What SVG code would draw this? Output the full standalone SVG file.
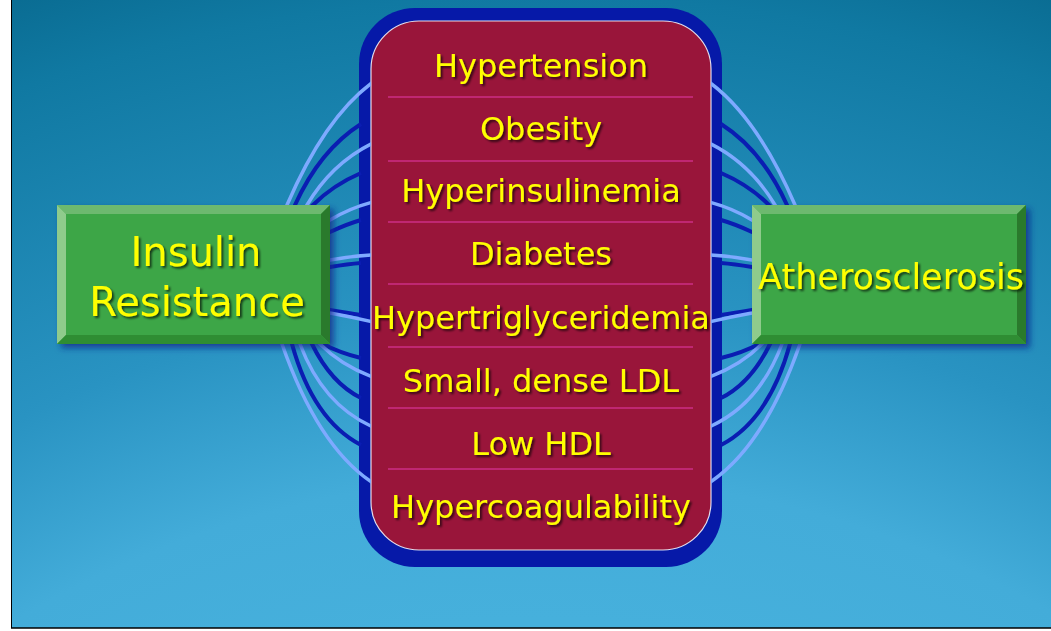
<svg xmlns="http://www.w3.org/2000/svg" xmlns:xlink="http://www.w3.org/1999/xlink" width="1051" height="631" viewBox="0 0 1051 631">
<defs>
<radialGradient id="bg" cx="540" cy="1500" r="1600" gradientUnits="userSpaceOnUse">
<stop offset="0.55" stop-color="#46b0dc"/>
<stop offset="0.64" stop-color="#43acd9"/>
<stop offset="0.75" stop-color="#2993c2"/>
<stop offset="0.94" stop-color="#1079a2"/>
<stop offset="1" stop-color="#096b91"/>
</radialGradient>
<filter id="ts" x="-10%" y="-30%" width="120%" height="160%">
<feDropShadow dx="2" dy="2" stdDeviation="1" flood-color="#000" flood-opacity="0.65"/>
</filter>
<filter id="bs" x="-10%" y="-10%" width="125%" height="130%">
<feDropShadow dx="4" dy="4" stdDeviation="3" flood-color="#0a2a8a" flood-opacity="0.75"/>
</filter>
<clipPath id="cc">
<rect x="0" y="0" width="371" height="631"/>
<rect x="711" y="0" width="340" height="631"/>
</clipPath>
<style>
.lt{fill:none;stroke:#7eaaff;stroke-width:3.5}
.dk{fill:none;stroke:#0a1db2;stroke-width:4}
.it{font-family:"DejaVu Sans",Verdana,sans-serif;font-size:32px;fill:#ffff00;text-anchor:middle;filter:url(#ts)}
.bt{font-family:"DejaVu Sans",Verdana,sans-serif;fill:#ffff00;text-anchor:middle;filter:url(#ts)}
.dv{stroke:#cc2e86;stroke-width:1.5}
.face{fill:#3ca646}
.bT{fill:#6db96f}.bL{fill:#8fcb8c}.bR{fill:#2a7a2c}.bB{fill:#2f8d33}
</style>
</defs>
<rect x="0" y="0" width="1051" height="631" fill="#ffffff"/>
<rect x="11" y="0" width="1040" height="628" fill="url(#bg)"/>
<line x1="11.5" y1="0" x2="11.5" y2="628" stroke="#000" stroke-width="1"/>
<line x1="11" y1="628" x2="1051" y2="628" stroke="#000" stroke-width="1.5"/>

<g id="factors">
<rect x="359" y="8" width="363" height="559" rx="56" fill="#0619a8"/>
<rect x="371" y="21" width="340" height="529" rx="48" fill="#99153a" stroke="#ffffff" stroke-width="1.2" stroke-opacity="0.85"/>
<line class="dv" x1="388" y1="97" x2="693" y2="97"/>
<line class="dv" x1="388" y1="161" x2="693" y2="161"/>
<line class="dv" x1="388" y1="222" x2="693" y2="222"/>
<line class="dv" x1="388" y1="284" x2="693" y2="284"/>
<line class="dv" x1="388" y1="347" x2="693" y2="347"/>
<line class="dv" x1="388" y1="408" x2="693" y2="408"/>
<line class="dv" x1="388" y1="469" x2="693" y2="469"/>
<text class="it" x="541" y="77">Hypertension</text>
<text class="it" x="541" y="140">Obesity</text>
<text class="it" x="541" y="202">Hyperinsulinemia</text>
<text class="it" x="541" y="265">Diabetes</text>
<text class="it" x="541" y="329">Hypertriglyceridemia</text>
<text class="it" x="541" y="392">Small, dense LDL</text>
<text class="it" x="541" y="455">Low HDL</text>
<text class="it" x="541" y="518">Hypercoagulability</text>
</g>

<g id="connectors" clip-path="url(#cc)">
<g id="leftfan">
<path class="lt" d="M272 240 L287 205 Q325 117 373 82"/>
<path class="dk" d="M285 227 L295 205 Q320 150 361 124"/>
<path class="lt" d="M297 222 L307 205 Q332 163 373 143"/>
<path class="dk" d="M305 213 L313 205 Q333 185 361 173"/>
<path class="lt" d="M322 225 L330 220 Q350 208 373 202"/>
<path class="dk" d="M323 235 L330 232 Q347 224 361 220"/>
<path class="lt" d="M321 262 L330 260 Q352 256 373 255"/>
<path class="dk" d="M323 268 L330 267 Q348 264 361 263"/>
<path class="dk" d="M323 309 L330 310 Q348 313 361 315"/>
<path class="lt" d="M321 311 L330 313 Q352 317 373 322"/>
<path class="dk" d="M316 340 L323 344 Q340 353 361 358"/>
<path class="lt" d="M311 335 L320 344 Q342 366 373 377"/>
<path class="dk" d="M304 328 L312 344 Q331 383 361 398"/>
<path class="lt" d="M291 320 L300 344 Q323 405 373 427"/>
<path class="dk" d="M284 314 L292 344 Q313 420 361 445"/>
<path class="lt" d="M268 303 L282 344 Q318 447 373 483"/>
</g>
<use xlink:href="#leftfan" href="#leftfan" transform="matrix(-1 0 0 1 1082 0)"/>
</g>

<g id="insulin-resistance">
<g filter="url(#bs)">
<rect class="face" x="57" y="205" width="273" height="139"/>
</g>
<polygon class="bT" points="57,205 330,205 321,214 66,214"/>
<polygon class="bL" points="57,205 66,214 66,335 57,344"/>
<polygon class="bR" points="330,205 330,344 321,335 321,214"/>
<polygon class="bB" points="57,344 330,344 321,335 66,335"/>
<text class="bt" x="196" y="266" font-size="40">Insulin</text>
<text class="bt" x="197" y="316" font-size="40">Resistance</text>
</g>

<g id="atherosclerosis">
<g filter="url(#bs)">
<rect class="face" x="752" y="205" width="274" height="139"/>
</g>
<polygon class="bT" points="752,205 1026,205 1017,214 761,214"/>
<polygon class="bL" points="752,205 761,214 761,335 752,344"/>
<polygon class="bR" points="1026,205 1026,344 1017,335 1017,214"/>
<polygon class="bB" points="752,344 1026,344 1017,335 761,335"/>
<text class="bt" x="891" y="289" font-size="35">Atherosclerosis</text>
</g>
</svg>
